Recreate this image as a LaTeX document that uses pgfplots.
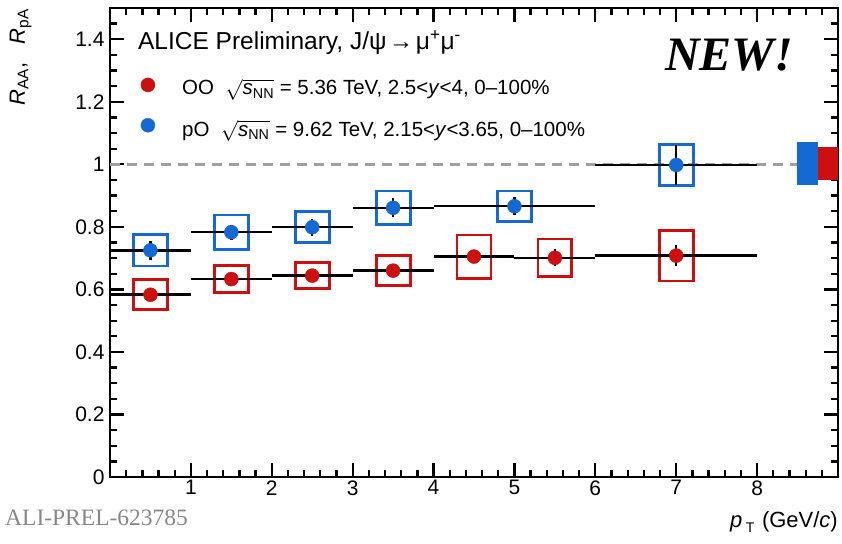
\documentclass[border=0pt]{standalone}
\usepackage{amsmath}
\usepackage{fontspec}
\setmainfont{Liberation Sans}
\newfontfamily\serifface{Liberation Serif}
\usepackage{pgfplots}
\pgfplotsset{compat=1.18}
\usepackage{pgfplotstable}
\usetikzlibrary{calc}
\definecolor{ored}{RGB}{205,15,15}
\definecolor{pblue}{RGB}{20,105,210}
\definecolor{dashgray}{RGB}{160,160,160}
\definecolor{aligray}{RGB}{135,135,135}
\newcommand\lbl{\fontsize{20.5}{24}\selectfont}

\pgfplotstableread{
x   y     ex   stat   sys
0.5 0.583 0.5  0.015  0.048
1.5 0.633 0.5  0.015  0.043
2.5 0.644 0.5  0.015  0.042
3.5 0.660 0.5  0.015  0.048
4.5 0.705 0.5  0.020  0.069
5.5 0.701 0.5  0.027  0.060
7.0 0.708 1.0  0.033  0.081
}\OOdata

\pgfplotstableread{
x   y     ex   stat   sys
0.5 0.725 0.5  0.031  0.050
1.5 0.783 0.5  0.024  0.055
2.5 0.799 0.5  0.027  0.050
3.5 0.861 0.5  0.030  0.054
5.0 0.866 1.0  0.029  0.049
7.0 0.998 1.0  0.065  0.065
}\pOdata

% systematic box: colour, x, y, sys
\newcommand\sysbox[4]{%
  \pgfmathsetmacro\xa{#2-0.21}\pgfmathsetmacro\xb{#2+0.21}%
  \pgfmathsetmacro\ya{#3-#4}\pgfmathsetmacro\yb{#3+#4}%
  \edef\temp{\noexpand\addplot[draw=#1, line width=2.8pt, mark=none]
    coordinates {(\xa,\ya) (\xb,\ya) (\xb,\yb) (\xa,\yb)} -- cycle;}\temp}

\pgfplotsset{
  binerr/.style={draw=none, mark=none,
    error bars/.cd, x dir=both, x explicit, y dir=both, y explicit,
    error mark=none, error bar style={black, line width=2.5pt, solid}},
}

\begin{document}
\begin{tikzpicture}
\begin{axis}[name=ax,
  scale only axis, width=728pt, height=469pt,
  xmin=0, xmax=9, ymin=0, ymax=1.5,
  axis line style={line width=2.8pt},
  xtick={0,1,2,3,4,5,6,7,8,9},
  xticklabels={,1,2,3,4,5,6,7,8,},
  minor xtick={0,0.2,...,9},
  ytick={0,0.2,0.4,0.6,0.8,1,1.2,1.4},
  yticklabels={0,0.2,0.4,0.6,0.8,1,1.2,1.4},
  minor ytick={0,0.05,...,1.5},
  tick align=inside,
  major tick length=14pt, minor tick length=7pt,
  every tick/.style={black, line width=2.3pt},
  tick label style={font=\fontsize{21}{25}\selectfont},
  yticklabel style={xshift=-2pt},
  /pgf/number format/assume math mode=true,
]
\addplot[dashgray, line width=2.8pt, dash pattern=on 10pt off 7pt] coordinates {(0,1) (9,1)};
\addplot[fill=pblue, draw=none] coordinates {(8.49,0.933) (8.75,0.933) (8.75,1.071) (8.49,1.071)} -- cycle;
\addplot[fill=ored, draw=none] coordinates {(8.75,0.95) (9,0.95) (9,1.057) (8.75,1.057)} -- cycle;

% systematic boxes OO
\sysbox{ored}{0.5}{0.583}{0.048}
\sysbox{ored}{1.5}{0.633}{0.043}
\sysbox{ored}{2.5}{0.644}{0.042}
\sysbox{ored}{3.5}{0.660}{0.048}
\sysbox{ored}{4.5}{0.705}{0.069}
\sysbox{ored}{5.5}{0.701}{0.060}
\sysbox{ored}{7.0}{0.708}{0.081}
% systematic boxes pO
\sysbox{pblue}{0.5}{0.725}{0.050}
\sysbox{pblue}{1.5}{0.783}{0.055}
\sysbox{pblue}{2.5}{0.799}{0.050}
\sysbox{pblue}{3.5}{0.861}{0.054}
\sysbox{pblue}{5.0}{0.866}{0.049}
\sysbox{pblue}{7.0}{0.998}{0.065}

\addplot[binerr] table[x=x, y=y, x error=ex, y error=stat] \OOdata;
\addplot[binerr] table[x=x, y=y, x error=ex, y error=stat] \pOdata;

\addplot[only marks, mark=*, mark size=7pt, color=ored, mark options={fill=ored, draw=ored}] table[x=x, y=y] \OOdata;
\addplot[only marks, mark=*, mark size=7pt, color=pblue, mark options={fill=pblue, draw=pblue}] table[x=x, y=y] \pOdata;

% legend markers
\addplot[only marks, mark=*, mark size=7pt, color=ored, mark options={fill=ored, draw=ored}] coordinates {(0.469,1.254)};
\addplot[only marks, mark=*, mark size=7pt, color=pblue, mark options={fill=pblue, draw=pblue}] coordinates {(0.469,1.125)};

\node[anchor=base west, font=\fontsize{24.5}{28}\selectfont, inner sep=0pt] at (axis cs:0.345,1.367)
  {ALICE Preliminary, J/ψ\hspace{0.1em}→\hspace{0.1em}μ\textsuperscript{+}μ\textsuperscript{-}};
\node[anchor=base west, font=\lbl, inner sep=0pt] at (axis cs:0.89,1.222)
  {OO\hspace{0.55em}$\sqrt{\textit{s}_{\text{NN}}}$ = 5.36 TeV, 2.5<\textit{y}<4, 0--100\%};
\node[anchor=base west, font=\lbl, inner sep=0pt] at (axis cs:0.89,1.090)
  {pO\hspace{0.55em}$\sqrt{\textit{s}_{\text{NN}}}$ = 9.62 TeV, 2.15<\textit{y}<3.65, 0--100\%};
\node[anchor=base, font={\serifface\bfseries\itshape\fontsize{48}{50}\selectfont}, inner sep=0pt] at (axis cs:7.654,1.299) {NEW!};
\end{axis}
\pgfresetboundingbox
\path[use as bounding box] ($(ax.south west)+(-110pt,-66pt)$) rectangle ++(842pt,543pt);
\node[rotate=90, anchor=base east, font=\fontsize{22}{26}\selectfont, inner sep=0pt] at ($(ax.north west)+(-85pt,-1pt)$)
  {\textit{R}\textsubscript{AA},\ \ \ \textit{R}\textsubscript{pA}};
\node[anchor=base east, font=\fontsize{22}{26}\selectfont, inner sep=0pt] at ($(ax.south east)+(0pt,-50pt)$)
  {\textit{p}\hspace{0.15em}\raisebox{-5pt}{\fontsize{14}{14}\selectfont T}\hspace{0.35em}(GeV/\textit{c})};
\node[anchor=base west, font={\serifface\fontsize{23.5}{26}\selectfont}, text=aligray, inner sep=0pt] at ($(ax.south west)+(-105pt,-48pt)$)
  {ALI-PREL-623785};
\end{tikzpicture}
\end{document}
